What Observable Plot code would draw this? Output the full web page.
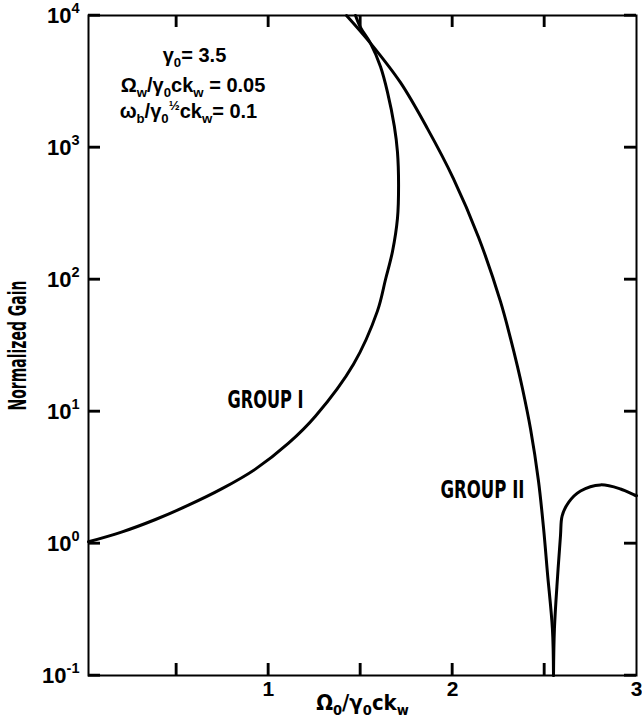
<!DOCTYPE html>
<html>
<head>
<meta charset="utf-8">
<script src="https://cdn.jsdelivr.net/npm/d3@7"></script>
<script src="https://cdn.jsdelivr.net/npm/@observablehq/plot@0.6"></script>
<style>
  html, body { margin: 0; padding: 0; background: #fff; }
  svg { display: block; background: #fff; color: #000; font-family: 'Liberation Sans', Arial, sans-serif; font-weight: bold; font-size: 20px; }
</style>
</head>
<body>
<div id="chart"></div>
<script>
// ---- Data ----
const groupIX = [0.022, 0.201, 0.386, 0.565, 0.745, 0.929, 1.109, 1.255, 1.462, 1.592, 1.636, 1.674, 1.701, 1.707, 1.701, 1.684, 1.647, 1.609, 1.554, 1.500, 1.473];
const groupIY = [1.03, 1.22, 1.52, 1.95, 2.59, 3.66, 5.75, 9.2, 22.8, 57.6, 100, 163, 290, 518, 927, 1450, 2620, 4090, 6180, 8130, 10000];

const groupIIX = [1.424, 1.554, 1.717, 1.864, 2.005, 2.141, 2.261, 2.315, 2.353, 2.380, 2.424, 2.467, 2.495, 2.516, 2.543, 2.549];
const groupIIY = [10000, 6180, 3110, 1390, 582, 210, 68, 36, 22, 15, 7.4, 3.0, 1.3, 0.6, 0.226, 0.1];

const groupIIbX = [2.549, 2.554, 2.571, 2.587, 2.596, 2.632, 2.696, 2.804, 2.913, 2.989, 3.0];
const groupIIbY = [0.1, 0.226, 0.56, 1.15, 1.62, 2.06, 2.50, 2.78, 2.59, 2.33, 2.3];

const xTickValues = [0.5, 1, 1.5, 2, 2.5];
const xTickLabels = [1, 2, 3];
const yTickValues = [0.1, 1, 10, 100, 1000, 10000];
const yTickLabels = ["10^{-1}", "10^{0}", "10^{1}", "10^{2}", "10^{3}", "10^{4}"];

const groupNames = ["GROUP I", "GROUP II"];
const groupNameX = [0.984, 2.163];
const groupNameY = [12.1, 2.55];

const paramText = ["γ_{0}= 3.5", "Ω_{w}/γ_{0}ck_{w} = 0.05", "ω_{b}/γ_{0}^{½}ck_{w}= 0.1"];
const paramX = [0.598, 0.59, 0.565];
const paramY = [4980, 2951, 1874];

const xLabel = "Ω_{0}/γ_{0}ck_{w}";
const yLabel = "Normalized Gain";

// ---- Build tables ----
const curves = [
  ...groupIX.map((x, i) => ({series: "I", x, y: groupIY[i]})),
  ...groupIIX.map((x, i) => ({series: "II", x, y: groupIIY[i]})),
  ...groupIIbX.map((x, i) => ({series: "IIb", x, y: groupIIbY[i]}))
];
const groupLabels = groupNames.map((t, i) => ({t, x: groupNameX[i], y: groupNameY[i]}));
const params = paramText.map((t, i) => ({t, x: paramX[i], y: paramY[i]}));
const xTicks = xTickValues.map(v => ({v}));
const yTicks = yTickValues.map(v => ({v}));

const narrow = "'Liberation Sans Narrow', 'DejaVu Sans Condensed', 'Liberation Sans', sans-serif";
const wide = "'Liberation Sans', Arial, sans-serif";

const W = 642, H = 726, ML = 88, MR = 6, MT = 15, MB = 51, TICK = 12;

const plot = Plot.plot({
  width: W,
  height: H,
  marginLeft: ML,
  marginRight: MR,
  marginTop: MT,
  marginBottom: MB,
  x: {type: "linear", domain: [0.022, 3]},
  y: {type: "log", domain: [0.1, 10000]},
  marks: [
    Plot.frame({stroke: "#000", strokeWidth: 2}),
    // inward ticks on all four sides
    Plot.tickX(xTicks, {x: "v", insetTop: H - MT - MB - TICK, stroke: "#000", strokeWidth: 2}),
    Plot.tickX(xTicks, {x: "v", insetBottom: H - MT - MB - TICK, stroke: "#000", strokeWidth: 2}),
    Plot.tickY(yTicks, {y: "v", insetRight: W - ML - MR - TICK, stroke: "#000", strokeWidth: 2}),
    Plot.tickY(yTicks, {y: "v", insetLeft: W - ML - MR - TICK, stroke: "#000", strokeWidth: 2}),
    // tick labels
    Plot.axisX(xTickLabels, {anchor: "bottom", tickSize: 0, tickPadding: 6, label: null, fontFamily: wide, fontSize: 21, fontWeight: "bold",
      tickFormat: d => String(d)}),
    Plot.axisY(yTickValues, {anchor: "left", tickSize: 0, tickPadding: 9, label: null, fontFamily: wide, fontSize: 22, fontWeight: "bold",
      tickFormat: d => yTickLabels[yTickValues.indexOf(d)]}),
    Plot.line(curves, {x: "x", y: "y", z: "series", curve: "catmull-rom", stroke: "#000", strokeWidth: 3}),
    Plot.text(groupLabels, {x: "x", y: "y", text: "t", fontSize: 24, fontWeight: "bold", fontFamily: narrow}),
    Plot.text(params, {x: "x", y: "y", text: "t", fontSize: 20, fontWeight: "bold", fontFamily: wide}),
    Plot.text([xLabel], {frameAnchor: "bottom", dy: 34, text: d => d, fontSize: 22, fontWeight: "bold", fontFamily: narrow}),
    Plot.text([yLabel], {frameAnchor: "left", dx: -70, rotate: -90, text: d => d, fontSize: 24, fontWeight: "bold", fontFamily: narrow})
  ]
});

// Condense some plain texts to the reference's narrow lettering
const condensed = {"GROUP I": 76, "GROUP II": 84, "Normalized Gain": 130};

// Convert _{..} and ^{..} markers into sub/superscript tspans (text stays real text)
function rich(svg) {
  d3.select(svg).selectAll("text").each(function() {
    const t = this.textContent;
    if (condensed[t]) {
      const L = condensed[t];
      const x0 = parseFloat(this.getAttribute("x")) || 0;
      this.setAttribute("text-anchor", "start");
      this.setAttribute("x", x0 - L / 2);
      this.setAttribute("textLength", L);
      this.setAttribute("lengthAdjust", "spacingAndGlyphs");
      return;
    }
    if (!/[_^]\{/.test(t)) return;
    const segs = [];
    const re = /([_^])\{([^}]*)\}|([^_^]+|[_^])/g;
    let m;
    while ((m = re.exec(t))) {
      if (m[1]) segs.push({k: m[1], s: m[2]});
      else segs.push({k: "", s: m[3]});
    }
    while (this.firstChild) this.removeChild(this.firstChild);
    let shift = 0;
    for (const g of segs) {
      const r = g.k ? 0.66 : 1;
      const target = g.k === "_" ? 0.25 : g.k === "^" ? -0.42 : 0;
      const ts = document.createElementNS("http://www.w3.org/2000/svg", "tspan");
      if (r !== 1) ts.setAttribute("font-size", (r * 100) + "%");
      const dy = (target - shift) / r;
      if (Math.abs(dy) > 1e-6) ts.setAttribute("dy", dy.toFixed(3) + "em");
      ts.textContent = g.s;
      this.appendChild(ts);
      shift = target;
    }
  });
}
rich(plot);

// Backup inward ticks as one path, placed through Plot's own scales
(function addTicks(svg) {
  const toFn = (s) => {
    if (s && typeof s.apply === "function") return (v) => s.apply(v);
    const base = s.type === "log" ? d3.scaleLog() : d3.scaleLinear();
    return base.domain(s.domain).range(s.range);
  };
  const sx = toFn(svg.scale("x")), sy = toFn(svg.scale("y"));
  let d = "";
  for (const v of xTickValues) {
    const px = sx(v);
    d += `M${px},${H - MB}V${H - MB - TICK}M${px},${MT}V${MT + TICK}`;
  }
  for (const v of yTickValues) {
    const py = sy(v);
    d += `M${ML},${py}H${ML + TICK}M${W - MR},${py}H${W - MR - TICK}`;
  }
  const p = document.createElementNS("http://www.w3.org/2000/svg", "path");
  p.setAttribute("d", d);
  p.setAttribute("fill", "none");
  p.setAttribute("stroke", "#000");
  p.setAttribute("stroke-width", "2.5");
  p.style.stroke = "#000";
  p.style.strokeWidth = "2.5px";
  svg.appendChild(p);
})(plot);

document.getElementById("chart").appendChild(plot);
</script>
</body>
</html>
